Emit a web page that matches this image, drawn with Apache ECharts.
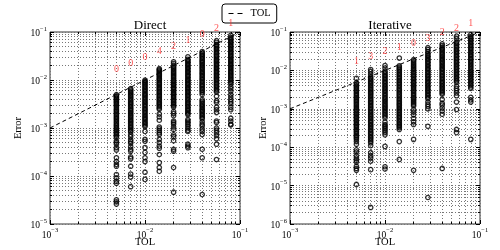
<!DOCTYPE html>
<html><head><meta charset="utf-8">
<script src="https://cdn.jsdelivr.net/npm/echarts@6/dist/echarts.min.js"></script>
<style>html,body{margin:0;padding:0;background:#fff}#c{width:500px;height:250px}</style>
</head><body><div id="c"></div>
<script>
// ---------- data ----------
const tolValues = [0.005, 0.00707, 0.01, 0.01414, 0.02, 0.02828, 0.04, 0.05657, 0.08];
const directFails = [0, 0, 0, 4, 2, 1, 0, 2, 1];
const iterativeFails = [1, 3, 2, 1, 0, 3, 2, 2, 1];
const directLabelY = [1.65e-2, 2.2e-2, 2.9e-2, 3.9e-2, 5.0e-2, 6.6e-2, 8.9e-2, 0.117, 0.15];
const iterativeLabelY = [1.74e-2, 2.26e-2, 3.05e-2, 3.9e-2, 5.0e-2, 6.8e-2, 9.5e-2, 0.123, 0.163];
const tolLine = [0.001, 0.1];

const dir1 = [4.95e-3,4.7e-3,4.45e-3,4.2e-3,3.95e-3,3.7e-3,3.5e-3,3.3e-3,3.1e-3,2.9e-3,2.7e-3,2.5e-3,2.35e-3,2.2e-3,2.05e-3,1.9e-3,1.78e-3,1.65e-3,1.55e-3,1.45e-3,1.35e-3,1.25e-3,1.17e-3,1.1e-3,1.02e-3,9.5e-4,8.9e-4,8.3e-4,7.8e-4,7.3e-4,6.8e-4,6.4e-4,5.4e-4,5.0e-4,4.6e-4,3.9e-4,3.5e-4,2.4e-4,2.0e-4,1.75e-4,1.6e-4,1.07e-4,9.1e-5,7.8e-5,7.1e-5,3.2e-5,2.9e-5,2.6e-5];
const dir2 = [6.6e-3,6.2e-3,5.8e-3,5.4e-3,5.1e-3,4.8e-3,4.5e-3,4.2e-3,3.9e-3,3.65e-3,3.4e-3,3.2e-3,3.0e-3,2.8e-3,2.6e-3,2.45e-3,2.3e-3,2.15e-3,2.0e-3,1.87e-3,1.75e-3,1.63e-3,1.52e-3,1.42e-3,1.33e-3,1.24e-3,1.16e-3,1.08e-3,1.01e-3,9.4e-4,8.8e-4,8.3e-4,7.2e-4,6.6e-4,5.7e-4,5.2e-4,4.8e-4,4.1e-4,3.6e-4,3.3e-4,2.5e-4,2.3e-4,1.6e-4,1.1e-4,9.5e-5,6.0e-5];
const dir3 = [9.9e-3,9.4e-3,8.9e-3,8.4e-3,7.9e-3,7.4e-3,6.9e-3,6.5e-3,6.1e-3,5.7e-3,5.3e-3,5.0e-3,4.7e-3,4.4e-3,4.1e-3,3.85e-3,3.6e-3,3.35e-3,3.15e-3,2.95e-3,2.75e-3,2.55e-3,2.4e-3,2.25e-3,2.1e-3,1.95e-3,1.82e-3,1.7e-3,1.6e-3,1.5e-3,1.4e-3,1.3e-3,1.22e-3,1.14e-3,1.07e-3,8.5e-4,5.8e-4,5.3e-4,3.9e-4,3.1e-4,2.4e-4,2.0e-4,1.2e-4,8.5e-5];
const dir4 = [1.72e-2,1.63e-2,1.55e-2,1.47e-2,1.38e-2,1.30e-2,1.22e-2,1.15e-2,1.08e-2,1.02e-2,9.6e-3,9.0e-3,8.5e-3,8.0e-3,7.5e-3,7.0e-3,6.6e-3,6.2e-3,5.8e-3,5.4e-3,5.1e-3,4.8e-3,4.5e-3,4.2e-3,3.9e-3,3.65e-3,3.4e-3,3.2e-3,3.0e-3,2.8e-3,2.6e-3,2.45e-3,1.95e-3,1.7e-3,1.45e-3,1.05e-3,9.6e-4,8.8e-4,8.0e-4,7.3e-4,5.8e-4,5.0e-4,4.2e-4,3.8e-4,2.8e-4,1.9e-4,1.5e-4,1.25e-4];
const dir5 = [2.4e-2,2.2e-2,1.95e-2,1.85e-2,1.74e-2,1.63e-2,1.53e-2,1.44e-2,1.35e-2,1.27e-2,1.19e-2,1.12e-2,1.05e-2,9.8e-3,9.2e-3,8.6e-3,8.1e-3,7.6e-3,7.1e-3,6.7e-3,6.3e-3,5.9e-3,5.5e-3,5.2e-3,4.9e-3,4.6e-3,4.3e-3,4.0e-3,3.75e-3,3.5e-3,3.3e-3,3.1e-3,2.9e-3,2.75e-3,2.2e-3,2.0e-3,1.8e-3,1.4e-3,1.3e-3,1.2e-3,1.05e-3,9.3e-4,7.2e-4,6.6e-4,5.4e-4,3.6e-4,3.3e-4,1.5e-4,4.6e-5];
const dir6 = [3.05e-2,2.7e-2,2.55e-2,2.4e-2,2.25e-2,2.1e-2,1.97e-2,1.85e-2,1.73e-2,1.62e-2,1.52e-2,1.43e-2,1.34e-2,1.26e-2,1.18e-2,1.1e-2,1.03e-2,9.7e-3,9.1e-3,8.5e-3,8.0e-3,7.5e-3,7.0e-3,6.6e-3,6.2e-3,5.8e-3,5.4e-3,5.1e-3,4.8e-3,4.5e-3,4.2e-3,3.9e-3,3.65e-3,3.4e-3,3.2e-3,3.0e-3,2.8e-3,2.6e-3,2.45e-3,2.3e-3,2.15e-3,2.0e-3,1.9e-3,1.5e-3,1.4e-3,1.3e-3,1.2e-3,1.1e-3,1.0e-3,9.0e-4,8.5e-4,4.6e-4,4.2e-4,3.9e-4];
const dir7 = [3.9e-2,3.65e-2,3.4e-2,3.2e-2,3.0e-2,2.8e-2,2.6e-2,2.45e-2,2.3e-2,2.15e-2,2.0e-2,1.87e-2,1.75e-2,1.63e-2,1.52e-2,1.42e-2,1.33e-2,1.24e-2,1.16e-2,1.08e-2,1.01e-2,9.4e-3,8.8e-3,8.2e-3,7.7e-3,7.2e-3,6.7e-3,6.3e-3,5.9e-3,5.5e-3,5.0e-3,3.9e-3,3.6e-3,3.35e-3,3.1e-3,2.9e-3,2.7e-3,2.5e-3,2.35e-3,2.2e-3,2.05e-3,1.9e-3,1.78e-3,1.65e-3,1.55e-3,1.35e-3,1.2e-3,1.1e-3,9.5e-4,8.5e-4,7.3e-4,3.6e-4,2.4e-4,4.1e-5];
const dir8 = [6.6e-2,6.1e-2,5.5e-2,5.2e-2,4.9e-2,4.6e-2,4.3e-2,4.0e-2,3.75e-2,3.5e-2,3.3e-2,3.1e-2,2.9e-2,2.7e-2,2.55e-2,2.4e-2,2.25e-2,2.1e-2,1.97e-2,1.85e-2,1.73e-2,1.62e-2,1.52e-2,1.42e-2,1.33e-2,1.25e-2,1.17e-2,1.1e-2,1.03e-2,9.6e-3,9.0e-3,8.4e-3,7.9e-3,7.4e-3,6.9e-3,6.4e-3,6.0e-3,5.6e-3,4.6e-3,3.7e-3,3.4e-3,2.7e-3,2.4e-3,2.1e-3,1.4e-3,1.3e-3,1.0e-3,9.0e-4,8.0e-4,7.0e-4,6.0e-4,4.6e-4,2.2e-4];
const dir9 = [8.5e-2,7.7e-2,7.2e-2,6.8e-2,6.4e-2,6.0e-2,5.6e-2,5.2e-2,4.9e-2,4.6e-2,4.3e-2,4.0e-2,3.75e-2,3.5e-2,3.3e-2,3.1e-2,2.9e-2,2.7e-2,2.55e-2,2.4e-2,2.25e-2,2.1e-2,1.97e-2,1.85e-2,1.73e-2,1.62e-2,1.52e-2,1.42e-2,1.33e-2,1.25e-2,1.17e-2,1.1e-2,1.03e-2,9.6e-3,9.0e-3,8.4e-3,7.3e-3,6.6e-3,5.8e-3,5.0e-3,4.4e-3,3.9e-3,3.5e-3,3.2e-3,2.7e-3,2.4e-3,1.6e-3,1.4e-3,1.2e-3,1.15e-3];

const itr1 = [6.2e-3,4.8e-3,4.4e-3,4.0e-3,3.7e-3,3.4e-3,3.1e-3,2.85e-3,2.6e-3,2.4e-3,2.2e-3,2.0e-3,1.83e-3,1.68e-3,1.54e-3,1.41e-3,1.29e-3,1.18e-3,1.08e-3,9.9e-4,9.1e-4,8.3e-4,7.6e-4,7.0e-4,6.4e-4,5.9e-4,5.4e-4,4.9e-4,4.5e-4,4.1e-4,3.8e-4,3.5e-4,3.2e-4,2.9e-4,2.65e-4,2.45e-4,2.25e-4,2.05e-4,1.9e-4,1.75e-4,1.6e-4,1.4e-4,1.2e-4,8.5e-5,7.5e-5,6.0e-5,5.2e-5,4.6e-5,4.1e-5,3.2e-5,2.8e-5,2.5e-5,1.07e-5];
const itr2 = [1.05e-2,9.3e-3,8.0e-3,6.9e-3,6.3e-3,5.8e-3,5.3e-3,4.9e-3,4.5e-3,4.1e-3,3.75e-3,3.45e-3,3.15e-3,2.9e-3,2.65e-3,2.45e-3,2.25e-3,2.05e-3,1.88e-3,1.72e-3,1.58e-3,1.45e-3,1.33e-3,1.22e-3,1.12e-3,1.03e-3,9.4e-4,8.6e-4,7.9e-4,7.2e-4,6.6e-4,6.1e-4,5.6e-4,5.1e-4,4.7e-4,4.3e-4,3.9e-4,3.6e-4,3.3e-4,3.0e-4,2.75e-4,2.5e-4,2.3e-4,2.1e-4,1.9e-4,1.75e-4,1.6e-4,1.45e-4,1.3e-4,1.1e-4,7.2e-5,6.0e-5,5.2e-5,4.3e-5,2.6e-5,2.7e-6];
const itr3 = [1.34e-2,1.15e-2,9.6e-3,8.8e-3,8.1e-3,7.4e-3,6.8e-3,6.2e-3,5.7e-3,5.2e-3,4.8e-3,4.4e-3,4.0e-3,3.7e-3,3.4e-3,3.1e-3,2.85e-3,2.6e-3,2.4e-3,2.2e-3,2.0e-3,1.84e-3,1.69e-3,1.55e-3,1.42e-3,1.3e-3,1.19e-3,1.09e-3,1.0e-3,9.2e-4,8.4e-4,7.7e-4,7.0e-4,6.4e-4,5.8e-4,4.5e-4,3.9e-4,3.6e-4,3.3e-4,3.0e-4,2.7e-4,2.4e-4,2.1e-4,1.05e-4,3.1e-5,2.7e-5];
const itr4 = [2.1e-2,1.32e-2,1.21e-2,1.11e-2,1.02e-2,9.3e-3,8.5e-3,7.8e-3,7.1e-3,6.5e-3,6.0e-3,5.5e-3,5.0e-3,4.6e-3,4.2e-3,3.85e-3,3.5e-3,3.2e-3,2.95e-3,2.7e-3,2.45e-3,2.25e-3,2.05e-3,1.88e-3,1.72e-3,1.58e-3,1.44e-3,1.32e-3,1.21e-3,1.1e-3,1.0e-3,9.2e-4,8.4e-4,7.7e-4,7.0e-4,6.4e-4,5.9e-4,5.4e-4,4.9e-4,4.5e-4,4.1e-4,3.8e-4,3.5e-4,3.2e-4,2.9e-4,1.4e-4,4.8e-5];
const itr5 = [1.9e-2,1.75e-2,1.6e-2,1.47e-2,1.35e-2,1.24e-2,1.14e-2,1.05e-2,9.6e-3,8.8e-3,8.1e-3,7.4e-3,6.8e-3,6.2e-3,5.7e-3,5.2e-3,4.8e-3,4.4e-3,4.0e-3,3.7e-3,3.4e-3,3.1e-3,2.85e-3,2.6e-3,2.4e-3,2.2e-3,2.0e-3,1.84e-3,1.69e-3,1.55e-3,1.42e-3,1.3e-3,1.19e-3,9.5e-4,8.2e-4,7.0e-4,5.6e-4,4.6e-4,3.9e-4,1.6e-4,2.5e-5];
const itr6 = [3.9e-2,3.5e-2,3.1e-2,2.75e-2,2.5e-2,2.3e-2,2.1e-2,1.93e-2,1.77e-2,1.62e-2,1.48e-2,1.36e-2,1.25e-2,1.14e-2,1.05e-2,9.6e-3,8.8e-3,8.1e-3,7.4e-3,6.8e-3,6.2e-3,5.7e-3,5.2e-3,4.8e-3,4.4e-3,4.0e-3,3.7e-3,3.4e-3,3.1e-3,2.85e-3,2.6e-3,2.4e-3,2.2e-3,2.0e-3,1.84e-3,1.5e-3,1.3e-3,1.15e-3,1.0e-3,3.5e-4,4.9e-6];
const itr7 = [4.9e-2,4.4e-2,3.9e-2,3.6e-2,3.3e-2,3.0e-2,2.75e-2,2.5e-2,2.3e-2,2.1e-2,1.93e-2,1.77e-2,1.62e-2,1.48e-2,1.36e-2,1.25e-2,1.14e-2,1.05e-2,9.6e-3,8.8e-3,8.1e-3,7.4e-3,6.8e-3,6.2e-3,5.7e-3,5.2e-3,4.8e-3,4.4e-3,4.0e-3,3.7e-3,3.4e-3,3.1e-3,2.85e-3,2.6e-3,2.4e-3,1.75e-3,1.4e-3,1.25e-3,1.05e-3,8.8e-4,7.2e-4,2.8e-5];
const itr8 = [7.8e-2,6.8e-2,5.5e-2,5.0e-2,4.6e-2,4.2e-2,3.85e-2,3.5e-2,3.2e-2,2.95e-2,2.7e-2,2.45e-2,2.25e-2,2.05e-2,1.88e-2,1.72e-2,1.58e-2,1.44e-2,1.32e-2,1.21e-2,1.1e-2,1.01e-2,9.2e-3,8.4e-3,7.7e-3,7.0e-3,6.4e-3,5.9e-3,5.4e-3,4.9e-3,3.9e-3,3.4e-3,3.0e-3,2.6e-3,2.2e-3,1.5e-3,9.6e-4,2.9e-4,2.4e-4];
const itr9 = [8.6e-2,7.6e-2,7.0e-2,6.4e-2,5.9e-2,5.4e-2,4.9e-2,4.5e-2,4.1e-2,3.8e-2,3.5e-2,3.2e-2,2.9e-2,2.65e-2,2.45e-2,2.25e-2,2.05e-2,1.88e-2,1.72e-2,1.58e-2,1.44e-2,1.32e-2,1.21e-2,1.1e-2,1.0e-2,9.2e-3,8.4e-3,7.7e-3,7.0e-3,6.4e-3,5.9e-3,5.4e-3,4.9e-3,4.5e-3,4.1e-3,3.7e-3,3.4e-3,2.0e-3,1.7e-3,1.5e-3,1.6e-4];

const directCols = [dir1, dir2, dir3, dir4, dir5, dir6, dir7, dir8, dir9];
const iterativeCols = [itr1, itr2, itr3, itr4, itr5, itr6, itr7, itr8, itr9];

// ---------- build ----------
const FONT = 'Liberation Serif';
function toPoints(cols) {
  const out = [];
  cols.forEach((col, i) => col.forEach(e => out.push([tolValues[i], e])));
  return out;
}
function labelPoints(ys, fails) {
  return ys.map((y, i) => [tolValues[i], y, fails[i]]);
}
// exponents (log10) of minor tick values m*10^k, m = 2..9
function minorLogTicks(lo, hi) {
  const v = [];
  for (let k = lo; k < hi; k++) for (let m = 2; m <= 9; m++) v.push(k + Math.log10(m));
  return v;
}
const sciFmt = v => {
  const e = Math.round(Math.log10(v));
  return '{b|10}{s|' + (e < 0 ? '\u2212' : '') + Math.abs(e) + '}';
};
const rich = {
  b: { fontFamily: FONT, fontSize: 9.5, color: '#000', verticalAlign: 'bottom', lineHeight: 13 },
  s: { fontFamily: FONT, fontSize: 6.5, color: '#000', verticalAlign: 'top', lineHeight: 13 }
};
const gridLine = { type: [1, 2], color: '#777', width: 1 };
const tickStyle = { color: '#000', width: 1 };

function xAxisMain(gi) {
  return {
    type: 'log', gridIndex: gi, min: 1e-3, max: 1e-1, logBase: 10, position: 'bottom',
    name: 'TOL', nameLocation: 'middle', nameGap: 13, nameMoveOverlap: false,
    nameTextStyle: { fontFamily: FONT, fontSize: 10.5, color: '#000' },
    axisLine: { show: false },
    axisTick: { show: true, inside: true, length: 4, lineStyle: tickStyle },
    axisLabel: { formatter: sciFmt, rich: rich, margin: 3 },
    splitLine: { show: true, lineStyle: gridLine }
  };
}
function xAxisTop(gi) {
  return {
    type: 'log', gridIndex: gi, min: 1e-3, max: 1e-1, position: 'top',
    axisLine: { show: false }, axisLabel: { show: false }, splitLine: { show: false },
    axisTick: { show: true, inside: true, length: 4, lineStyle: tickStyle }
  };
}
function xAxisMinor(gi, pos, withLines) {
  return {
    type: 'value', gridIndex: gi, min: -3, max: -1, position: pos, silent: true,
    axisLine: { show: false }, axisLabel: { show: false },
    axisTick: { show: true, inside: true, length: 2, lineStyle: tickStyle, customValues: minorLogTicks(-3, -1) },
    splitLine: { show: withLines, lineStyle: gridLine }
  };
}
function yAxisMain(gi, mn, gap) {
  return {
    type: 'log', gridIndex: gi, min: mn, max: 1e-1, logBase: 10, position: 'left',
    name: 'Error', nameLocation: 'middle', nameGap: gap, nameRotate: 90, nameMoveOverlap: false,
    nameTextStyle: { fontFamily: FONT, fontSize: 10.5, color: '#000' },
    axisLine: { show: false },
    axisTick: { show: true, inside: true, length: 4, lineStyle: tickStyle },
    axisLabel: { formatter: sciFmt, rich: rich, margin: 3 },
    splitLine: { show: true, lineStyle: gridLine }
  };
}
function yAxisRight(gi, mn) {
  return {
    type: 'log', gridIndex: gi, min: mn, max: 1e-1, position: 'right',
    axisLine: { show: false }, axisLabel: { show: false }, splitLine: { show: false },
    axisTick: { show: true, inside: true, length: 4, lineStyle: tickStyle }
  };
}
function yAxisMinor(gi, lo, pos, withLines) {
  return {
    type: 'value', gridIndex: gi, min: lo, max: -1, position: pos, silent: true,
    axisLine: { show: false }, axisLabel: { show: false },
    axisTick: { show: true, inside: true, length: 2, lineStyle: tickStyle, customValues: minorLogTicks(lo, -1) },
    splitLine: { show: withLines, lineStyle: gridLine }
  };
}
function scatterSeries(name, gi, cols) {
  return {
    type: 'scatter', name: name, xAxisIndex: gi, yAxisIndex: gi, data: toPoints(cols),
    symbol: 'circle', symbolSize: 4.4, z: 5,
    itemStyle: { color: 'rgba(255,255,255,0)', borderColor: '#000', borderWidth: 1.3 }
  };
}
function tolSeries(gi) {
  return {
    type: 'line', name: 'TOL', xAxisIndex: gi, yAxisIndex: gi,
    data: tolLine.map(v => [v, v]), symbol: 'none', showSymbol: false, z: 4,
    itemStyle: { color: '#000' },
    lineStyle: { color: '#000', width: 1, type: [4, 3] }
  };
}
function labelSeries(gi, ys, fails) {
  return {
    type: 'scatter', xAxisIndex: gi, yAxisIndex: gi, data: labelPoints(ys, fails),
    symbolSize: 1, clip: false, z: 6, itemStyle: { color: 'rgba(0,0,0,0)' },
    label: { show: true, position: 'inside', formatter: p => String(p.value[2]),
      fontFamily: FONT, fontSize: 10, color: '#ff2a2a' }
  };
}

const chart = echarts.init(document.getElementById('c'), null, { renderer: 'canvas' });
chart.setOption({
  animation: false,
  backgroundColor: '#fff',
  title: [
    { text: 'Direct', left: 145, top: 14, textAlign: 'center', textStyle: { fontFamily: FONT, fontSize: 13, fontWeight: 'normal', color: '#000' } },
    { text: 'Iterative', left: 385, top: 14, textAlign: 'center', textStyle: { fontFamily: FONT, fontSize: 13, fontWeight: 'normal', color: '#000' } }
  ],
  legend: {
    data: ['TOL'], left: 222, top: 4, itemWidth: 17, itemHeight: 8, itemGap: 4,
    padding: [4, 6, 4, 6], borderColor: '#000', borderWidth: 1, borderRadius: 3,
    backgroundColor: '#fff',
    itemStyle: { opacity: 0 },
    lineStyle: { type: [5, 4], width: 1, color: '#000' },
    textStyle: { fontFamily: FONT, fontSize: 10.5, color: '#000' }
  },
  grid: [
    { left: 50, top: 32, width: 190, height: 192, show: true, borderColor: '#333', borderWidth: 1, backgroundColor: 'transparent', outerBoundsMode: 'none' },
    { left: 290, top: 32, width: 190, height: 192, show: true, borderColor: '#333', borderWidth: 1, backgroundColor: 'transparent', outerBoundsMode: 'none' }
  ],
  xAxis: [xAxisMain(0), xAxisMain(1), xAxisTop(0), xAxisTop(1),
          xAxisMinor(0, 'bottom', true), xAxisMinor(1, 'bottom', true),
          xAxisMinor(0, 'top', false), xAxisMinor(1, 'top', false)],
  yAxis: [yAxisMain(0, 1e-5, 26), yAxisMain(1, 1e-6, 21), yAxisRight(0, 1e-5), yAxisRight(1, 1e-6),
          yAxisMinor(0, -5, 'left', true), yAxisMinor(1, -6, 'left', true),
          yAxisMinor(0, -5, 'right', false), yAxisMinor(1, -6, 'right', false)],
  series: [
    tolSeries(0),
    tolSeries(1),
    scatterSeries('Direct', 0, directCols),
    scatterSeries('Iterative', 1, iterativeCols),
    labelSeries(0, directLabelY, directFails),
    labelSeries(1, iterativeLabelY, iterativeFails)
  ]
});
</script></body></html>
